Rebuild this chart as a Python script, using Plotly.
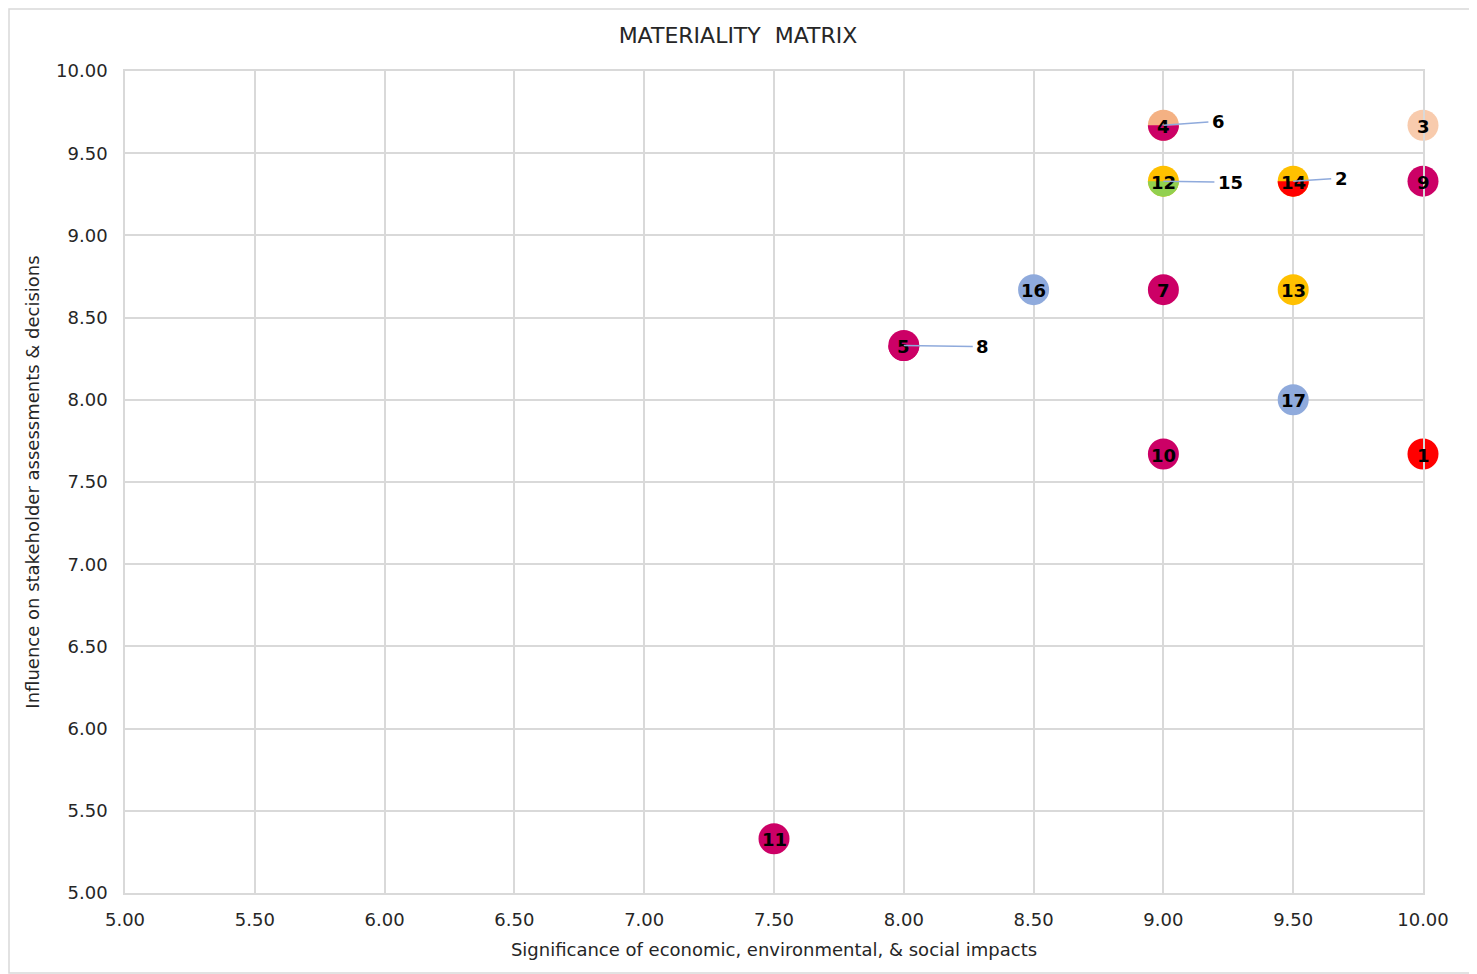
import numpy as np
import plotly.graph_objects as go

# ---- data ----
topic_ids = [1, 2, 3, 4, 5, 6, 7, 8, 9, 10, 11, 12, 13, 14, 15, 16, 17]
significance = [10.0, 9.5, 10.0, 9.0, 8.0, 9.0, 9.0, 8.0, 10.0, 9.0, 7.5, 9.0, 9.5, 9.5, 9.0, 8.5, 9.5]
influence = [7.67, 9.33, 9.67, 9.67, 8.33, 9.67, 8.67, 8.33, 9.33, 7.67, 5.33, 9.33, 8.67, 9.33, 9.33, 8.67, 8.00]
topic_colors = ["#FF0000", "#FF0000", "#F8CBAD", "#F4B183", "#CC0066", "#CC0066", "#CC0066",
                "#CC0066", "#CC0066", "#CC0066", "#CC0066", "#FFC000", "#FFC000", "#FFC000",
                "#92D050", "#8FAADC", "#8FAADC"]
# topics whose label is moved out with a leader line (pixel offsets of the label)
leader_offsets = {6: (55, -4), 15: (67, 1), 2: (48, -3), 8: (79, 1)}

x_ticks = [5.0 + 0.5 * i for i in range(11)]
y_ticks = [5.0 + 0.5 * i for i in range(11)]

FONT = "DejaVu Sans, Verdana, sans-serif"
MSIZE = 31
R = MSIZE / 2

W, H = 1469, 966
ML, MR, MT, MB = 117, 54, 63, 81
PW, PH = W - ML - MR, H - MT - MB

main_idx = [i for i, t in enumerate(topic_ids) if t not in leader_offsets]
lead_idx = [i for i, t in enumerate(topic_ids) if t in leader_offsets]

fig = go.Figure()
fig.add_trace(go.Scatter(
    x=[significance[i] for i in main_idx],
    y=[influence[i] for i in main_idx],
    mode="markers",
    marker=dict(size=MSIZE, color=[topic_colors[i] for i in main_idx], line=dict(width=0)),
    hovertext=[str(topic_ids[i]) for i in main_idx],
    cliponaxis=False,
    showlegend=False,
))

# bottom half-circles for overlapping topics
t = np.linspace(np.pi, 2 * np.pi, 40)
pts = " L ".join(f"{R*np.cos(a):.2f},{R*np.sin(a):.2f}" for a in t)
half_path = "M " + pts + " Z"
shapes = []
for i in lead_idx:
    shapes.append(dict(type="path", xref="x", yref="y", xsizemode="pixel", ysizemode="pixel",
                       xanchor=significance[i], yanchor=influence[i], path=half_path,
                       fillcolor=topic_colors[i], line=dict(width=0), layer="above"))

# outer chart border
shapes.append(dict(type="rect", xref="paper", yref="paper",
                   x0=(1 - ML) / PW, x1=(W - 1 - ML) / PW,
                   y0=(PH + MT - (H - 1)) / PH, y1=(PH + MT - 1) / PH,
                   line=dict(color="#D9D9D9", width=1.5), fillcolor="rgba(0,0,0,0)", layer="below"))

annotations = []
for i in main_idx:
    annotations.append(dict(x=significance[i], y=influence[i], text=f"<b>{topic_ids[i]}</b>",
                            showarrow=False, font=dict(family=FONT, size=18, color="black"), yshift=-1))
for i in lead_idx:
    dx, dy = leader_offsets[topic_ids[i]]
    annotations.append(dict(x=significance[i], y=influence[i], text=f"<b>{topic_ids[i]}</b>",
                            showarrow=True, arrowhead=0, arrowwidth=1.5, arrowcolor="#8FAADC",
                            ax=dx, ay=dy, standoff=0, startstandoff=2,
                            font=dict(family=FONT, size=18, color="black")))

fig.update_layout(
    width=W, height=H,
    margin=dict(l=ML, r=MR, t=MT, b=MB),
    paper_bgcolor="white", plot_bgcolor="white",
    font=dict(family=FONT, color="#262626"),
    title=dict(text="MATERIALITY  MATRIX", x=(738 - 8) / W, xref="container", xanchor="center",
               y=1 - 27 / H, yref="container", yanchor="middle",
               font=dict(family=FONT, size=22, color="#262626")),
    shapes=shapes,
    annotations=annotations,
    showlegend=False,
)
fig.update_xaxes(range=[5, 10], tickvals=x_ticks, ticktext=[f"{v:.2f}" for v in x_ticks],
                 showgrid=True, gridcolor="#D9D9D9", gridwidth=1.5,
                 showline=True, linecolor="#D9D9D9", linewidth=1.5, mirror=True,
                 zeroline=False, ticks="", ticklabelstandoff=10,
                 tickfont=dict(family=FONT, size=18, color="#262626"),
                 title=dict(text="Significance of economic, environmental, & social impacts",
                            font=dict(family=FONT, size=18, color="#262626"), standoff=14))
fig.update_yaxes(range=[5, 10], tickvals=y_ticks, ticktext=[f"{v:.2f}" for v in y_ticks],
                 showgrid=True, gridcolor="#D9D9D9", gridwidth=1.5,
                 showline=True, linecolor="#D9D9D9", linewidth=1.5, mirror=True,
                 zeroline=False, ticks="", ticklabelstandoff=12,
                 tickfont=dict(family=FONT, size=18, color="#262626"),
                 title=dict(text="Influence on stakeholder assessments & decisions",
                            font=dict(family=FONT, size=18, color="#262626"), standoff=12))

fig.write_html("out.html")
